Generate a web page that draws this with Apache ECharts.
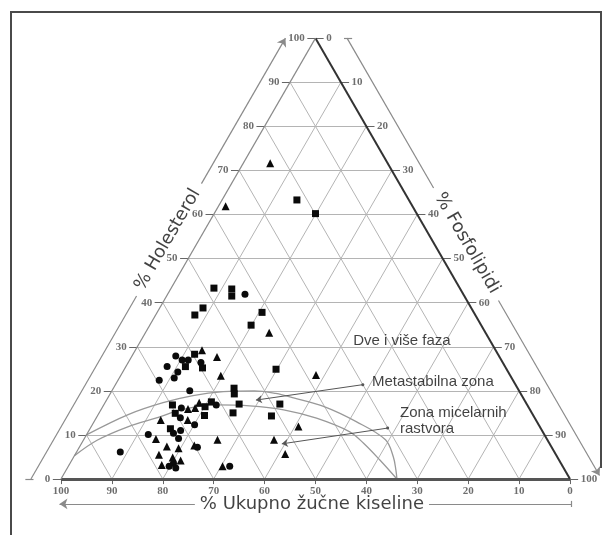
<!DOCTYPE html>
<html><head><meta charset="utf-8">
<script src="https://cdn.jsdelivr.net/npm/echarts@6/dist/echarts.min.js"></script>
<style>html,body{margin:0;padding:0;background:#fff}#c{width:610px;height:535px}</style>
</head><body><div id="c"></div>
<script>
// Ternary values: [holesterol %, fosfolipidi %]; žučne kiseline = 100 - H - P
const squares = [[63.3,14.7],[60.2,19.9],[43.3,8.4],[43.1,12.0],[41.5,12.8],[38.8,8.5],[37.2,7.7],[37.8,20.6],[34.9,19.9],[28.3,12.1],[25.5,11.7],[25.2,15.2],[24.9,29.8],[20.6,23.7],[19.3,24.4],[16.8,13.5],[16.4,20.1],[17.5,20.8],[17.0,26.5],[17.0,34.5],[14.9,15.0],[14.4,21.0],[15.0,26.3],[14.3,34.2],[11.4,15.8]];
const circles = [[41.9,15.2],[27.9,8.6],[27.0,10.3],[27.0,11.5],[26.4,14.3],[25.5,8.1],[24.3,10.8],[22.9,10.8],[22.4,8.1],[20.0,15.3],[16.1,15.6],[16.8,22.1],[13.9,16.5],[12.3,20.1],[11.0,18.0],[10.4,16.9],[9.2,18.5],[10.1,12.1],[7.2,23.2],[6.1,8.6],[3.6,20.3],[2.9,19.8],[2.5,21.3],[2.9,31.7]];
const triangles = [[71.6,5.3],[61.9,1.4],[33.2,24.3],[29.2,13.1],[27.7,16.8],[23.4,19.7],[23.6,38.3],[17.3,18.5],[16.1,18.3],[15.9,17.0],[13.4,18.2],[13.4,12.9],[11.9,40.7],[9.1,14.1],[8.9,26.3],[8.9,37.4],[7.6,22.4],[7.4,17.1],[7.0,19.6],[5.7,41.2],[5.5,16.5],[4.9,19.5],[4.2,21.4],[3.2,18.2],[2.9,30.3]];
// zone boundaries [H, P]
const upperCurve = [[10,0],[14.6,5.9],[17.3,11.4],[18.9,16.5],[19.8,22],[20.0,28],[19.4,32.5],[18.4,36.5],[16.4,43.5],[13.0,51.5],[8.9,59.3],[5.0,62.8],[2.0,64.8],[0,66]];
const lowerCurve = [[5.3,0],[8.8,2.7],[11.9,7.3],[13.8,11.7],[15.8,16.1],[16.8,22.2],[16.6,28.8],[15.7,35.9],[13.8,43.3],[10.7,51.4],[8.1,55.4],[4.3,60.5],[0,66]];
const ticks = [0,10,20,30,40,50,60,70,80,90,100];
const titleLeft = '% Holesterol';
const titleRight = '% Fosfolipidi';
const titleBottom = '% Ukupno žučne kiseline';
const zoneLabels = ['Dve i više faza','Metastabilna zona','Zona micelarnih\nrastvora'];

const R3 = Math.sqrt(3)/2;
function T(h,p){ return [p + h/2, h*R3]; }
function sh(pt,dx,dy){ return [pt[0]+dx, pt[1]+dy]; }
const LOFF = -5.9, ROFF = 6.2;
const leftOut = h => sh(T(h,0), LOFF, 0);
const rightOut = h => sh(T(h,100-h), ROFF, 0);

const gridSegs = [];
ticks.slice(1,-1).forEach(v => {
  gridSegs.push({coords:[T(v,0), T(v,100-v)]});
  gridSegs.push({coords:[T(0,v), T(100-v,v)]});
  gridSegs.push({coords:[T(0,100-v), T(100-v,0)]});
});
const tickSegs = [];
ticks.forEach(v => {
  tickSegs.push({coords:[T(v,0), sh(T(v,0),-1.6,0)]});
  tickSegs.push({coords:[T(100-v,v), sh(T(100-v,v),1.6,0)]});
  tickSegs.push({coords:[T(0,100-v), sh(T(0,100-v),0,-1.0)]});
});
const leftLabels = ticks.map(v => { const p = sh(T(v,0),-1.6,0); return [p[0],p[1],String(v)]; });
const rightLabels = ticks.map(v => { const p = sh(T(100-v,v),1.6,0); return [p[0],p[1],String(v)]; });
const bottomLabels = ticks.map(v => { const p = sh(T(0,100-v),0,-1.0); return [p[0],p[1],String(v)]; });

const tickFont = {fontFamily:'Liberation Serif', fontSize:11, fontWeight:'bold', color:'#4a4a4a'};
const gray = '#8a8a8a';
const BY = -4.9;

const chart = echarts.init(document.getElementById('c'), null, {renderer:'canvas'});
const labelSeries = (data, pos) => ({
  type:'scatter', data, symbolSize:1, itemStyle:{color:'rgba(0,0,0,0)'}, silent:true, z:5,
  label:{show:true, position:pos, distance:pos==='bottom'?1:2, formatter:p=>p.value[2], ...tickFont}
});
const textPoint = (pt, text, opts) => ({
  type:'scatter', symbolSize:1, itemStyle:{color:'rgba(0,0,0,0)'}, silent:true, z:6,
  data:[[pt[0],pt[1],text]],
  label:Object.assign({show:true, position:'inside', formatter:p=>p.value[2], color:'#111'}, opts)
});
const edge = (a, b, color, width) => ({type:'lines', coordinateSystem:'cartesian2d', silent:true, z:3, data:[{coords:[a,b]}], lineStyle:{color, width, opacity:1}});
const mark = {color:'#0a0a0a', opacity:1};
chart.setOption({
  animation:false,
  grid:{left:0,top:0,right:0,bottom:0},
  xAxis:{type:'value', min:-11.98, max:107.86, show:false},
  yAxis:{type:'value', min:-11.0, max:94.1, show:false},
  graphic:[{type:'polyline', silent:true, shape:{points:[[11,540],[11,12],[601,12],[601,468]]}, style:{fill:null, stroke:'#4a4a4a', lineWidth:2}}],
  series:[
    {type:'lines', coordinateSystem:'cartesian2d', silent:true, z:1, data:gridSegs, lineStyle:{color:'#b4b4b4', width:1, opacity:1}},
    {type:'lines', coordinateSystem:'cartesian2d', silent:true, z:2, data:tickSegs, lineStyle:{color:'#666', width:1, opacity:1}},
    {type:'line', silent:true, z:2, data:upperCurve.map(d=>T(d[0],d[1])), smooth:0.35, showSymbol:false, lineStyle:{color:'#999', width:1.3}},
    {type:'line', silent:true, z:2, data:lowerCurve.map(d=>T(d[0],d[1])), smooth:0.35, showSymbol:false, lineStyle:{color:'#999', width:1.3}},
    edge(T(0,0), T(0,100), '#555', 3),
    edge(T(100,0), T(0,100), '#333', 2),
    edge(T(0,0), T(100,0), '#8a8a8a', 1.2),
    // outer axis lines
    {type:'lines', coordinateSystem:'cartesian2d', silent:true, z:3, symbol:['none','none'], lineStyle:{color:gray, width:1.2, opacity:1},
      data:[{coords:[leftOut(0), leftOut(41.5)]}, {coords:[rightOut(100), rightOut(66)]}, {coords:[sh(leftOut(0),-1.1,0), sh(leftOut(0),0.5,0)]},
            {coords:[sh(rightOut(100),-0.6,0), sh(rightOut(100),1.0,0)]}, {coords:[[72.3,BY],[100.2,BY]]}, {coords:[[100.2,BY-0.6],[100.2,BY+0.6]]}]},
    {type:'lines', coordinateSystem:'cartesian2d', silent:true, z:3, symbol:['none','arrow'], symbolSize:8, lineStyle:{color:gray, width:1.2, opacity:1},
      data:[{coords:[leftOut(67), leftOut(100)]}, {coords:[rightOut(40.5), rightOut(0.8)]}, {coords:[[26.3,BY],[-0.3,BY]]}]},
    // annotation arrows
    {type:'lines', coordinateSystem:'cartesian2d', silent:true, z:4, symbol:['circle','arrow'], symbolSize:[3,6], lineStyle:{color:'#555', width:1, opacity:1},
      data:[{coords:[T(21.4,48.6), T(17.9,29.35)]}, {coords:[T(11.55,58.4), T(7.97,39.4)]}]},
    // data
    {type:'scatter', z:10, symbol:'rect', symbolSize:7, itemStyle:mark, data:squares.map(d=>T(d[0],d[1]))},
    {type:'scatter', z:10, symbol:'circle', symbolSize:7, itemStyle:mark, data:circles.map(d=>T(d[0],d[1]))},
    {type:'scatter', z:10, symbol:'triangle', symbolSize:8, itemStyle:mark, data:triangles.map(d=>T(d[0],d[1]))},
    // tick labels
    labelSeries(leftLabels,'left'), labelSeries(rightLabels,'right'), labelSeries(bottomLabels,'bottom'),
    // titles
    textPoint(sh(T(54.3,0),-6.2,0), titleLeft, {rotate:60, fontFamily:'DejaVu Sans', fontSize:18, align:'center', verticalAlign:'middle'}),
    textPoint(sh(T(53.5,46.5),6.5,0), titleRight, {rotate:-60, fontFamily:'DejaVu Sans', fontSize:18, align:'center', verticalAlign:'middle'}),
    textPoint([49.3,BY], titleBottom, {fontFamily:'DejaVu Sans', fontSize:18, align:'center', verticalAlign:'middle'}),
    textPoint(T(31.3,41.75), zoneLabels[0], {fontFamily:'Liberation Sans', fontSize:15, align:'left', verticalAlign:'middle'}),
    textPoint(T(22.0,50.1), zoneLabels[1], {fontFamily:'Liberation Sans', fontSize:15, align:'left', verticalAlign:'middle'}),
    textPoint(T(13.2,60.0), zoneLabels[2], {fontFamily:'Liberation Sans', fontSize:15, lineHeight:16, align:'left', verticalAlign:'middle'})
  ]
});
</script></body></html>
